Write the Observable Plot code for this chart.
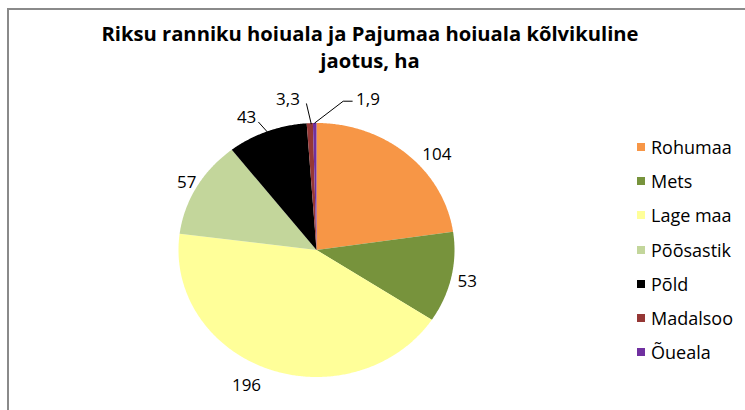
<!DOCTYPE html>
<html>
<head>
<meta charset="utf-8">
<script src="https://cdn.jsdelivr.net/npm/d3@7"></script>
<script src="https://cdn.jsdelivr.net/npm/@observablehq/plot@0.6"></script>
<style>
  html, body { margin: 0; padding: 0; background: #fff; }
  #wrap { position: relative; width: 745px; height: 410px; overflow: hidden; font-family: "Open Sans", sans-serif; }
  #frame { position: absolute; left: 7px; top: 8px; width: 800px; height: 500px;
           border-left: 2px solid #8a8a8a; border-top: 2px solid #8a8a8a; box-sizing: border-box; }
  #chart { position: absolute; left: 0; top: 0; }
  #title { position: absolute; left: 0; top: 19.5px; width: 740px; text-align: center;
           font-weight: 700; font-size: 20.2px; line-height: 27px; color: #000; }
  #legend { position: absolute; left: 637px; top: 130px; }
  .row { display: flex; align-items: center; height: 34.2px; }
  .sw { width: 8px; height: 8px; margin-right: 6px; }
  .lt { font-size: 18px; color: #000; white-space: nowrap; line-height: 1; }
</style>
</head>
<body>
<div id="wrap">
  <div id="frame"></div>
  <div id="chart"></div>
  <div id="title">Riksu ranniku hoiuala ja Pajumaa hoiuala kõlvikuline<br>jaotus, ha</div>
  <div id="legend"></div>
</div>
<script>
// ---- data ----
const categories = ["Rohumaa", "Mets", "Lage maa", "Põõsastik", "Põld", "Madalsoo", "Õueala"];
const values = [104, 53, 196, 57, 43, 3.3, 1.9];
const valueLabels = ["104", "53", "196", "57", "43", "3,3", "1,9"];

// ---- styles / layout ----
const colors = ["#F79646", "#77933C", "#FFFF99", "#C3D69B", "#000000", "#953735", "#7030A0"];
const CX = 316, CY = 249.5, RX = 138, RY = 127;
// label nudges (px) from the slice's outer mid point
const labelNudge = [[30, 0.7], [16, 3.5], [-22, 16.4], [-10, -4.6], [-20.5, -14.2], [-21.8, -24], [53.3, -23.8]];
// leader line vertices (px offsets from slice's outer mid point)
const leaderShapes = {
  "Põld": [[0.5, 0.8], [-8.5, -9.2]],
  "Madalsoo": [[1.4, 0.6], [-3.3, -19.3]],
  "Õueala": [[0, 0], [28.5, -21.8], [37.5, -21.8]]
};

// ---- geometry via d3.pie ----
const arcs = d3.pie().sort(null).value(d => d)(values);
const slices = arcs.map((a, i) => ({
  name: categories[i], value: values[i], label: valueLabels[i],
  a0: a.startAngle, a1: a.endAngle, mid: (a.startAngle + a.endAngle) / 2
}));

const poly = [];
for (const s of slices) {
  poly.push({name: s.name, x: 0, y: 0});
  const n = Math.max(2, Math.ceil((s.a1 - s.a0) / (Math.PI / 360)));
  for (let k = 0; k <= n; k++) {
    const a = s.a0 + (s.a1 - s.a0) * k / n;
    poly.push({name: s.name, x: Math.sin(a), y: Math.cos(a)});
  }
  poly.push({name: s.name, x: 0, y: 0});
}

const leaderPts = [];
for (const s of slices) {
  const shape = leaderShapes[s.name];
  if (!shape) continue;
  const ex = Math.sin(s.mid), ey = Math.cos(s.mid);
  for (const [px, py] of shape) leaderPts.push({name: s.name, x: ex + px / RX, y: ey - py / RY});
}

const textMarks = slices.map((s, i) => Plot.text([s], {
  x: d => Math.sin(d.mid), y: d => Math.cos(d.mid), text: "label",
  dx: labelNudge[i][0], dy: labelNudge[i][1],
  fontSize: 17, fill: "#000", textAnchor: "middle"
}));

const chart = Plot.plot({
  width: 745, height: 410, margin: 0,
  style: {background: "transparent", fontFamily: "'Open Sans', sans-serif", overflow: "visible"},
  x: {domain: [-1, 1], range: [CX - RX, CX + RX], axis: null},
  y: {domain: [-1, 1], range: [CY + RY, CY - RY], axis: null},
  color: {domain: categories, range: colors},
  marks: [
    Plot.line(poly, {x: "x", y: "y", z: "name", fill: "name", stroke: "none"}),
    Plot.line(leaderPts, {x: "x", y: "y", z: "name", stroke: "#000", strokeWidth: 1}),
    ...textMarks
  ]
});
document.getElementById("chart").appendChild(chart);

// ---- legend ----
const legend = document.getElementById("legend");
categories.forEach((c, i) => {
  const row = document.createElement("div");
  row.className = "row";
  const sw = document.createElement("div");
  sw.className = "sw";
  sw.style.background = colors[i];
  const t = document.createElement("span");
  t.className = "lt";
  t.textContent = c;
  row.appendChild(sw); row.appendChild(t);
  legend.appendChild(row);
});
</script>
</body>
</html>
